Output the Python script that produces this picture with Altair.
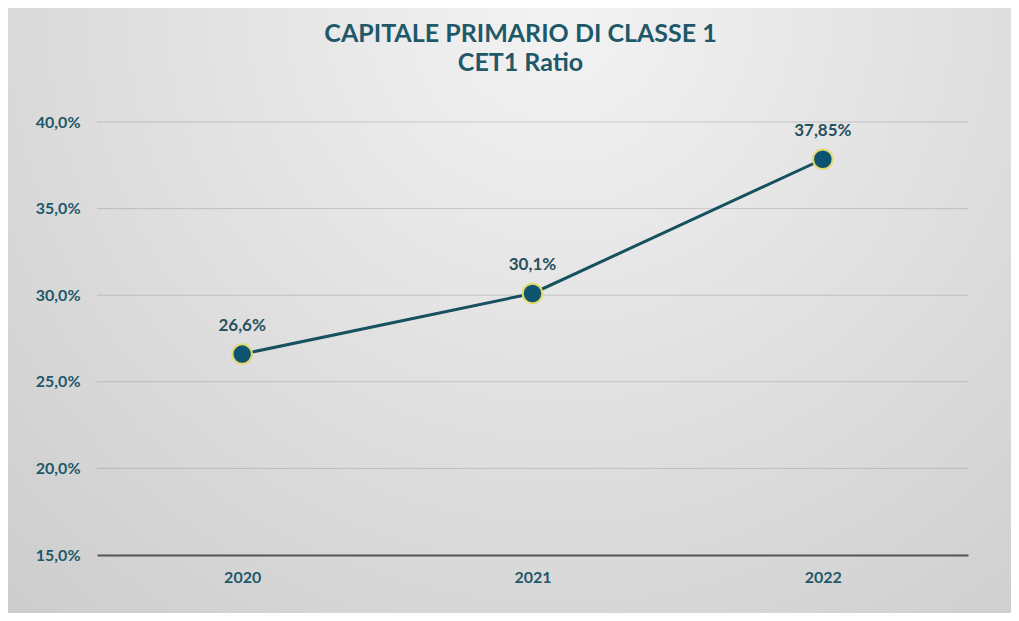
import altair as alt
import pandas as pd

years = ["2020", "2021", "2022"]
cet1 = [26.6, 30.1, 37.85]
point_labels = ["26,6%", "30,1%", "37,85%"]
y_ticks = [15, 20, 25, 30, 35, 40]
grid_values = [20, 25, 30, 35, 40]

df = pd.DataFrame({"year": years, "cet1": cet1, "label": point_labels})
grid_df = pd.DataFrame({"g": grid_values})
bg_df = pd.DataFrame({"a": [0]})

TEAL = "#1e5869"
LINE = "#17505f"
W, H = 871, 433
PL, PT = 89, 114
TOTW, TOTH = 1003, 605
FONT = "Lato"

xscale = alt.Scale(type="point", padding=0.5, domain=years)
yscale = alt.Scale(domain=[15, 40], nice=False, zero=False)

bg = alt.Chart(bg_df).mark_rect(
    fill=alt.RadialGradient(
        gradient="radial",
        x1=0.55, y1=0.2, r1=0.0,
        x2=0.55, y2=0.2, r2=0.85,
        stops=[
            alt.GradientStop(offset=0, color="#f3f3f3"),
            alt.GradientStop(offset=1, color="#cbcbcb"),
        ],
    )
).encode(
    x=alt.value(-PL), x2=alt.value(TOTW - PL),
    y=alt.value(-PT), y2=alt.value(TOTH - PT),
)

grid = alt.Chart(grid_df).mark_rule(stroke="#000000", strokeOpacity=0.14, strokeWidth=1).encode(
    y=alt.Y("g:Q", scale=yscale)
)

base = alt.Chart(df)

line = base.mark_line(color=LINE, strokeWidth=3).encode(
    x=alt.X("year:O", scale=xscale, axis=alt.Axis(
        title=None, labelFont=FONT, labelFontSize=16, labelFontWeight="bold",
        labelColor=TEAL, labelAngle=0, labelPadding=14, ticks=False,
        domain=True, domainColor="#555555", domainWidth=2, grid=False, zindex=1)),
    y=alt.Y("cet1:Q", scale=yscale, axis=alt.Axis(
        title=None, values=y_ticks,
        labelExpr="replace(format(datum.value, '.1f'), '.', ',') + '%'",
        labelFont=FONT, labelFontSize=16, labelFontWeight="bold", labelColor=TEAL,
        labelPadding=17, ticks=False, domain=False, grid=False, zindex=1)),
)

points = base.mark_point(
    filled=True, shape="circle", size=380, fill="#0c5470", stroke="#e2d96e",
    strokeWidth=2, opacity=1
).encode(
    x=alt.X("year:O", scale=xscale),
    y=alt.Y("cet1:Q", scale=yscale),
)

texts = base.mark_text(
    font=FONT, fontSize=17, fontWeight="bold", color="#27515e", dy=-28
).encode(
    x=alt.X("year:O", scale=xscale),
    y=alt.Y("cet1:Q", scale=yscale),
    text="label:N",
)

chart = alt.layer(bg, grid, line, points, texts).properties(
    width=W, height=H,
    autosize=alt.AutoSizeParams(type="none"),
    padding={"left": PL, "top": PT, "right": TOTW - PL - W, "bottom": TOTH - PT - H},
    title=alt.TitleParams(
        text="CAPITALE PRIMARIO DI CLASSE 1", subtitle="CET1 Ratio",
        font=FONT, subtitleFont=FONT, fontSize=25, subtitleFontSize=25,
        fontWeight="bold", subtitleFontWeight="bold",
        color=TEAL, subtitleColor=TEAL, anchor="middle", frame="group",
        offset=-(PT - 46), subtitlePadding=4, dx=-12,
    ),
).configure_view(stroke=None).configure(background="#d9d9d9")

chart.save("out.html", embed_options={"renderer": "svg", "actions": False})
